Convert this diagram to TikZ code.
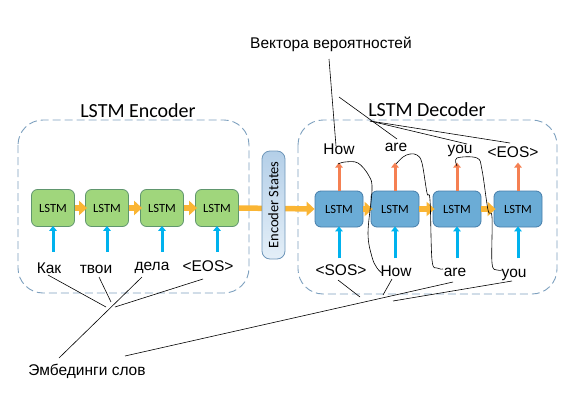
\documentclass[tikz,border=0pt]{standalone}
\usepackage{fontspec}
\setmainfont{Liberation Sans}
\newfontfamily\calibri{Carlito}
\usetikzlibrary{arrows.meta,calc}

\definecolor{encgreen}{RGB}{160,214,124}
\definecolor{encgreenline}{RGB}{96,150,110}
\definecolor{decblue}{RGB}{107,172,214}
\definecolor{decblueline}{RGB}{70,125,170}
\definecolor{framecol}{RGB}{125,160,190}
\definecolor{statecol}{RGB}{250,181,52}
\definecolor{incol}{RGB}{0,178,238}
\definecolor{outcol}{RGB}{245,128,82}
\definecolor{statesline}{RGB}{110,150,185}

\tikzset{
  encbox/.style={draw=encgreenline, fill=encgreen, rounded corners=6pt, line width=0.8pt,
    minimum width=43pt, minimum height=37pt, inner sep=0pt,
    font=\calibri\fontsize{12.5}{13}\selectfont},
  decbox/.style={encbox, draw=decblueline, fill=decblue, minimum width=48pt, minimum height=36pt},
  statesbox/.style={draw=statesline, rounded corners=8pt, line width=0.8pt,
    top color={rgb,255:red,180;green,207;blue,232}, bottom color={rgb,255:red,228;green,239;blue,248},
    minimum width=108pt, minimum height=23pt, inner sep=0pt,
    font=\calibri\fontsize{14.5}{15}\selectfont},
  frame/.style={draw=framecol, dash pattern=on 8pt off 4pt, rounded corners=25pt, line width=0.9pt},
  statearrow/.style={draw=statecol, line width=5.5pt, -{Triangle[length=8pt,width=14pt]}},
  inarrow/.style={draw=incol, line width=3pt, -{Triangle[length=5pt,width=7.5pt]}},
  outarrow/.style={inarrow, draw=outcol},
  word/.style={font=\fontsize{15.5}{18}\selectfont, inner sep=0pt, anchor=base},
  title/.style={font=\calibri\fontsize{20}{24}\selectfont, inner sep=0pt, anchor=base},
  pointer/.style={draw=black, line width=0.6pt},
}

\begin{document}
\begin{tikzpicture}[x=1pt,y=-1pt]
\useasboundingbox (0,0) rectangle (568,407);

% Encoder
\draw[frame] (18,120) rectangle (249,293);
\node[title] (enctitle) at (138,117) {LSTM Encoder};

\node[encbox] (enc1) at (53,208) {LSTM};
\node[encbox] (enc2) at (107,208) {LSTM};
\node[encbox] (enc3) at (162,208) {LSTM};
\node[encbox] (enc4) at (217,208) {LSTM};

% Decoder
\draw[frame] (298,120) rectangle (557,294);
\node[title] (dectitle) at (427,116) {LSTM Decoder};

\node[decbox] (dec1) at (339,209) {LSTM};
\node[decbox] (dec2) at (395,209) {LSTM};
\node[decbox] (dec3) at (457,209) {LSTM};
\node[decbox] (dec4) at (518,209) {LSTM};

% Encoder--Decoder
\draw[statearrow] (enc1.east) -- ([xshift=2pt]enc2.west);
\draw[statearrow] (enc2.east) -- ([xshift=2pt]enc3.west);
\draw[statearrow] (enc3.east) -- ([xshift=2pt]enc4.west);
\draw[statearrow] (enc4.east) -- (dec1.west);
\draw[statearrow] (dec1.east) -- ([xshift=2pt]dec2.west);
\draw[statearrow] (dec2.east) -- ([xshift=2pt]dec3.west);
\draw[statearrow] (dec3.east) -- ([xshift=2pt]dec4.west);
\node[statesbox, rotate=90] (states) at (273.5,205) {Encoder States};

% Входы
\draw[inarrow] ($(enc1.south)+(0,25)$) -- ([yshift=1pt]enc1.south);
\draw[inarrow] ($(enc2.south)+(0,25)$) -- ([yshift=1pt]enc2.south);
\draw[inarrow] ($(enc3.south)+(0,25)$) -- ([yshift=1pt]enc3.south);
\draw[inarrow] ($(enc4.south)+(0,25)$) -- ([yshift=1pt]enc4.south);
\draw[inarrow] ($(dec1.south)+(0,31)$) -- ([yshift=1pt]dec1.south);
\draw[inarrow] ($(dec2.south)+(0,31)$) -- ([yshift=1pt]dec2.south);
\draw[inarrow] ($(dec3.south)+(0,31)$) -- ([yshift=1pt]dec3.south);
\draw[inarrow] ($(dec4.south)+(0,31)$) -- ([yshift=1pt]dec4.south);

% Выходы
\draw[outarrow] (dec1.north) -- ++(0,-28);
\draw[outarrow] (dec2.north) -- ++(0,-28);
\draw[outarrow] (dec3.north) -- ++(0,-28);
\draw[outarrow] (dec4.north) -- ++(0,-28);

% Слова
\node[word] (kak) at (49,273) {Как};
\node[word] (tvoi) at (96,273) {твои};
\node[word] (dela) at (152,270) {дела};
\node[word] (eosin) at (208,271) {<EOS>};

\node[word] (sos) at (341,275) {<SOS>};
\node[word] (howin) at (396,276) {How};
\node[word] (arein) at (455,276) {are};
\node[word] (youin) at (514,277) {you};

\node[word] (howout) at (339,154) {How};
\node[word] (areout) at (396,151) {are};
\node[word] (youout) at (460,153) {you};
\node[word] (eosout) at (513,157) {<EOS>};

% Подписи
\node[word] (probs) at (331,48) {Вектора вероятностей};
\node[word] (emb) at (87,375) {Эмбединги слов};

% Линии сверху
\draw[pointer] (329,59) -- (336,146);
\draw[pointer] (339,97) -- (397,139);
\draw[pointer] (370,121) -- (467,144);
\draw[pointer] (370,121) -- (510,143);

% Кривые
\draw[pointer] plot[smooth, tension=0.6] coordinates {(338,164) (345,162) (358,163) (369,176) (372,190) (368,233) (372,257) (377,268) (383,274)};
\draw[pointer] plot[smooth, tension=0.6] coordinates {(396,164) (403,157) (410,154) (417,155) (422,163) (427,193) (430,200) (432,260) (437,268) (443,269)};
\draw[pointer] plot[smooth, tension=0.6] coordinates {(457,166) (457,158) (477,158) (482,170) (488,210) (492,217) (492,263) (497,270) (502,270)};

% Линии снизу
\draw[pointer] (59,358) -- (142,277);
\draw[pointer] (48,275) -- (106,307);
\draw[pointer] (99,277) -- (111,302);
\draw[pointer] (203,279) -- (115,307);

\draw[pointer] (125,356) -- (453,282);
\draw[pointer] (338,280) -- (360,297);
\draw[pointer] (392,279) -- (383,295);
\draw[pointer] (512,281) -- (393,301);

\end{tikzpicture}
\end{document}
